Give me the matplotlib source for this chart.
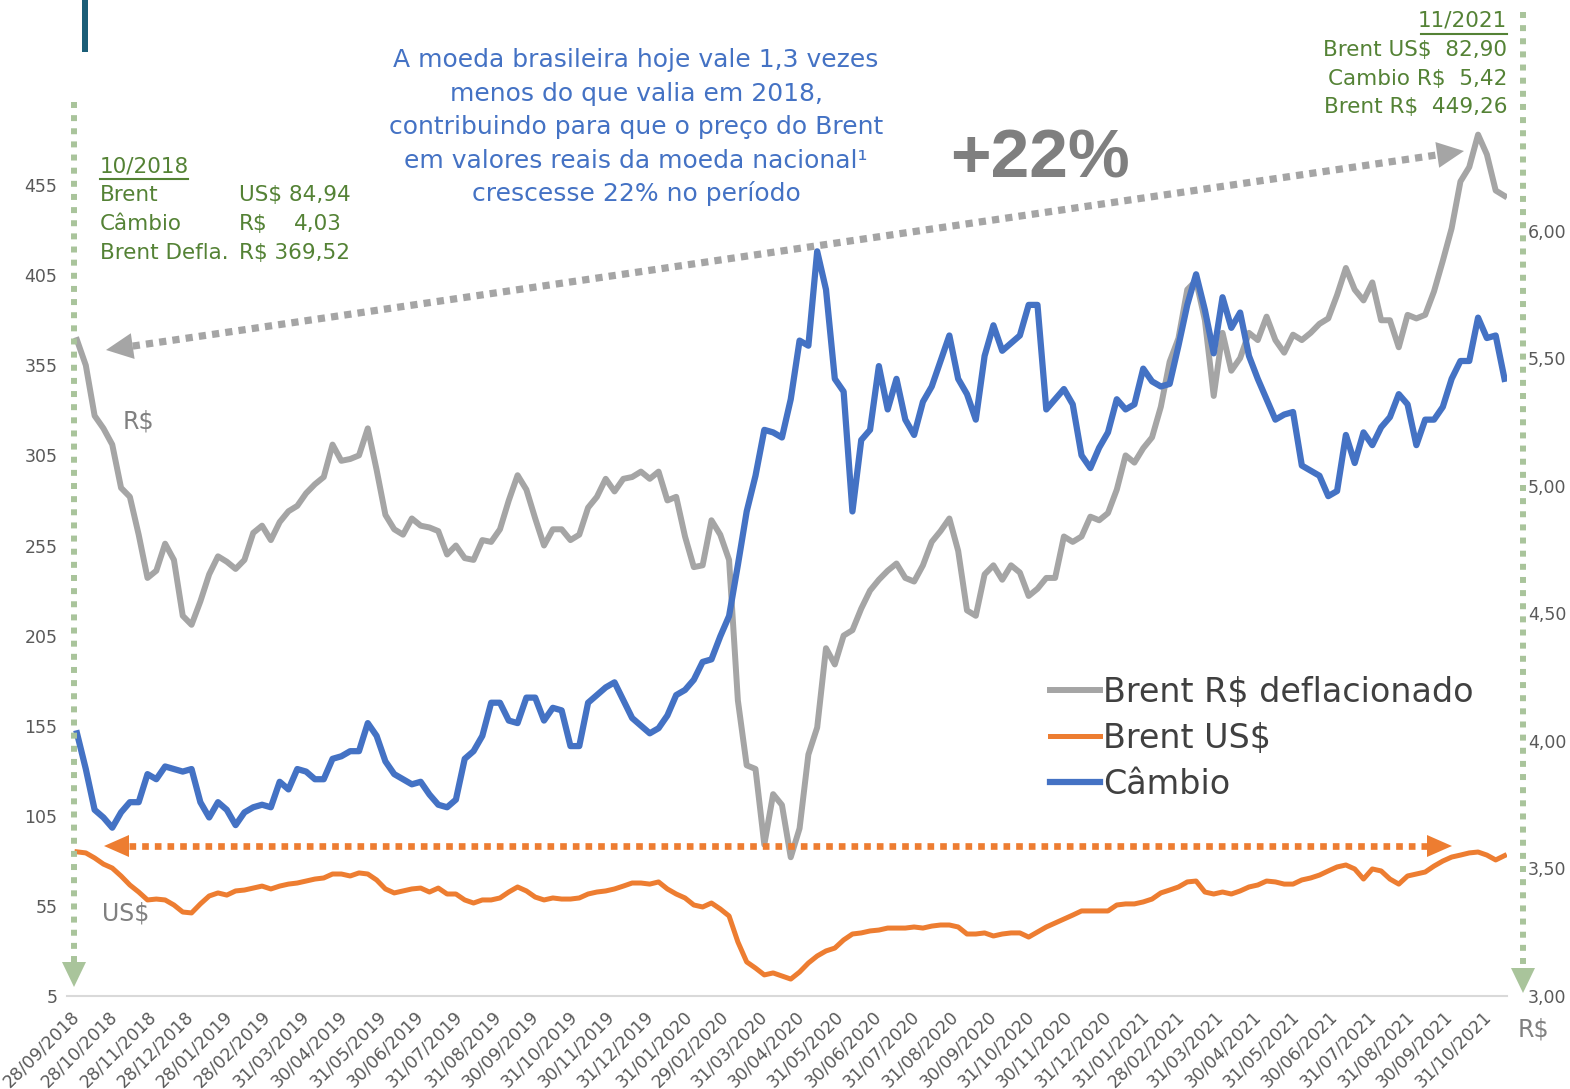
import numpy as np
import pandas as pd
import matplotlib
matplotlib.use("Agg")
import matplotlib.pyplot as plt
from matplotlib.patches import Polygon, Rectangle

# weekly readings, first point 28/09/2018, last point 13/11/2021
START = "2018-09-28"
END = "2021-11-13"

brent_brl = [369, 355, 327, 320, 311, 287, 282, 261, 237, 241,
             256, 247, 216, 211, 224, 239, 249, 246, 242, 247,
             262, 266, 258, 268, 274, 277, 284, 289, 293, 311,
             302, 303, 305, 320, 297, 272, 264, 261, 270, 266,
             265, 263, 250, 255, 248, 247, 258, 257, 264, 280,
             294, 286, 270, 255, 264, 264, 258, 261, 276, 282,
             292, 285, 292, 293, 296, 292, 296, 280, 282, 260,
             243, 244, 269, 261, 247, 169, 133, 131, 89, 117,
             111, 82, 98, 139, 154, 198, 189, 205, 208, 220,
             230, 236, 241, 245, 237, 235, 244, 257, 263, 270,
             252, 219, 216, 239, 244, 236, 244, 240, 227, 231,
             237, 237, 260, 257, 260, 271, 269, 273, 286, 305,
             301, 309, 315, 332, 357, 370, 397, 402, 380, 338,
             373, 352, 359, 373, 369, 382, 369, 362, 372, 369,
             373, 378, 381, 394, 409, 397, 391, 401, 380, 380,
             365, 383, 381, 383, 396, 413, 431, 457, 465, 483,
             472, 452, 449]

brent_usd = [85.0, 84.4, 81.6, 78.2, 76.0, 71.6, 66.6, 62.7, 58.3, 58.8,
             58.3, 55.5, 51.6, 51.1, 56.1, 60.5, 62.2, 61.0, 63.3, 63.8,
             64.9, 66.0, 64.4, 66.0, 67.1, 67.7, 68.8, 69.9, 70.5, 72.7,
             72.7, 71.6, 73.3, 72.7, 69.4, 64.4, 62.2, 63.3, 64.4, 64.9,
             62.7, 64.9, 61.6, 61.6, 58.3, 56.6, 58.3, 58.3, 59.4, 62.7,
             65.5, 63.3, 59.9, 58.3, 59.4, 58.8, 58.8, 59.4, 61.6, 62.7,
             63.3, 64.4, 66.0, 67.7, 67.7, 67.1, 68.3, 64.4, 61.6, 59.4,
             55.5, 54.4, 56.6, 53.3, 49.4, 35.0, 23.9, 20.5, 16.7, 17.8,
             16.1, 14.4, 18.3, 23.3, 27.2, 30.0, 31.6, 36.1, 39.4, 40.0,
             41.1, 41.6, 42.7, 42.7, 42.7, 43.3, 42.7, 43.8, 44.4, 44.4,
             43.3, 39.4, 39.4, 40.0, 38.3, 39.4, 40.0, 40.0, 37.7, 40.5,
             43.3, 45.5, 47.7, 49.9, 52.2, 52.2, 52.2, 52.2, 55.5, 56.1,
             56.1, 57.2, 58.8, 62.2, 63.8, 65.5, 68.3, 68.8, 62.7, 61.6,
             62.7, 61.6, 63.3, 65.5, 66.6, 68.8, 68.3, 67.1, 67.1, 69.4,
             70.5, 72.1, 74.4, 76.6, 77.7, 75.5, 69.9, 75.5, 74.4, 69.9,
             67.1, 71.6, 72.7, 73.8, 77.1, 79.9, 82.1, 83.2, 84.4, 84.9,
             83.2, 80.5, 82.9]

cambio = [4.03, 3.89, 3.73, 3.70, 3.66, 3.72, 3.76, 3.76, 3.87, 3.85,
          3.90, 3.89, 3.88, 3.89, 3.76, 3.70, 3.76, 3.73, 3.67, 3.72,
          3.74, 3.75, 3.74, 3.84, 3.81, 3.89, 3.88, 3.85, 3.85, 3.93,
          3.94, 3.96, 3.96, 4.07, 4.02, 3.92, 3.87, 3.85, 3.83, 3.84,
          3.79, 3.75, 3.74, 3.77, 3.93, 3.96, 4.02, 4.15, 4.15, 4.08,
          4.07, 4.17, 4.17, 4.08, 4.13, 4.12, 3.98, 3.98, 4.15, 4.18,
          4.21, 4.23, 4.16, 4.09, 4.06, 4.03, 4.05, 4.10, 4.18, 4.20,
          4.24, 4.31, 4.32, 4.41, 4.49, 4.69, 4.90, 5.04, 5.22, 5.21,
          5.19, 5.34, 5.57, 5.55, 5.92, 5.77, 5.42, 5.37, 4.90, 5.18,
          5.22, 5.47, 5.30, 5.42, 5.26, 5.20, 5.33, 5.39, 5.49, 5.59,
          5.42, 5.36, 5.26, 5.51, 5.63, 5.53, 5.56, 5.59, 5.71, 5.71,
          5.30, 5.34, 5.38, 5.32, 5.12, 5.07, 5.15, 5.21, 5.34, 5.30,
          5.32, 5.46, 5.41, 5.39, 5.40, 5.55, 5.71, 5.83, 5.69, 5.52,
          5.74, 5.62, 5.68, 5.51, 5.42, 5.34, 5.26, 5.28, 5.29, 5.08,
          5.06, 5.04, 4.96, 4.98, 5.20, 5.09, 5.21, 5.16, 5.23, 5.27,
          5.36, 5.32, 5.16, 5.26, 5.26, 5.31, 5.42, 5.49, 5.49, 5.66,
          5.58, 5.59, 5.42]

tick_labels = ["28/09/2018", "28/10/2018", "28/11/2018", "28/12/2018",
               "28/01/2019", "28/02/2019", "31/03/2019", "30/04/2019",
               "31/05/2019", "30/06/2019", "31/07/2019", "31/08/2019",
               "30/09/2019", "31/10/2019", "30/11/2019", "31/12/2019",
               "31/01/2020", "29/02/2020", "31/03/2020", "30/04/2020",
               "31/05/2020", "30/06/2020", "31/07/2020", "31/08/2020",
               "30/09/2020", "31/10/2020", "30/11/2020", "31/12/2020",
               "31/01/2021", "28/02/2021", "31/03/2021", "30/04/2021",
               "31/05/2021", "30/06/2021", "31/07/2021", "31/08/2021",
               "30/09/2021", "31/10/2021"]

left_ticks = [5, 55, 105, 155, 205, 255, 305, 355, 405, 455]
right_ticks = [3.0, 3.5, 4.0, 4.5, 5.0, 5.5, 6.0]

note_lines = ["A moeda brasileira hoje vale 1,3 vezes",
              "menos do que valia em 2018,",
              "contribuindo para que o preço do Brent",
              "em valores reais da moeda nacional¹",
              "crescesse 22% no período"]

GRAY = "#a5a5a5"
ORANGE = "#ed7d31"
BLUE = "#4472c4"
GREEN = "#548235"
GREEN_LT = "#a9c49b"
TICK = "#595959"

W, H = 1570, 1089


def head(ax, tip, toward, length, half, color):
    # filled triangle arrow head, tip pointing away from 'toward'
    tip = np.array(tip, float)
    d = np.array(toward, float) - tip
    d /= np.hypot(*d)
    n = np.array([-d[1], d[0]])
    base = tip + d * length
    ax.add_patch(Polygon([tip, base + n * half, base - n * half],
                         closed=True, color=color, lw=0))
    return base


def dotted_arrow(ax, p1, p2, color, lw, pattern, length, half, both=True):
    b2 = head(ax, p2, p1, length, half, color)
    b1 = head(ax, p1, p2, length, half, color) if both else np.array(p1, float)
    ax.plot([b1[0], b2[0]], [b1[1], b2[1]], color=color, lw=lw,
            ls=(0, pattern), dash_capstyle="butt")


def main():
    dates = pd.date_range(START, END, periods=len(brent_brl))
    tick_dates = pd.to_datetime(tick_labels, format="%d/%m/%Y")

    fig = plt.figure(figsize=(W / 100, H / 100), dpi=100)
    ax = fig.add_axes([67 / W, 93 / H, 1440 / W, 901 / H])
    ax2 = ax.twinx()

    l1, = ax.plot(dates, brent_brl, color=GRAY, lw=4.3,
                  solid_joinstyle="round", label="Brent R$ deflacionado")
    l2, = ax.plot(dates, brent_usd, color=ORANGE, lw=3.6,
                  solid_joinstyle="round", label="Brent US$")
    l3, = ax2.plot(dates, cambio, color=BLUE, lw=4.5,
                   solid_joinstyle="round", label="Câmbio")

    ax.set_xlim(pd.Timestamp("2018-09-20"), pd.Timestamp("2021-11-15"))
    ax.set_ylim(5, 505)
    ax2.set_ylim(3, 6.533)

    ax.set_yticks(left_ticks)
    ax.set_yticklabels([str(t) for t in left_ticks])
    ax2.set_yticks(right_ticks)
    ax2.set_yticklabels([f"{t:.2f}".replace(".", ",") for t in right_ticks])
    ax.set_xticks(tick_dates)
    ax.set_xticklabels(tick_labels, rotation=45, ha="right", va="center",
                       rotation_mode="anchor")

    ax.tick_params(axis="x", length=0, pad=13, labelsize=12.5, colors=TICK)
    ax.tick_params(axis="y", length=0, pad=7, labelsize=12.5, colors=TICK)
    ax2.tick_params(axis="y", length=0, pad=15, labelsize=12.5, colors=TICK)

    for s in ["top", "left", "right"]:
        ax.spines[s].set_visible(False)
    ax.spines["bottom"].set_color("#d9d9d9")
    ax.spines["bottom"].set_linewidth(1.5)
    for s in ax2.spines.values():
        s.set_visible(False)

    fig.legend([l1, l2, l3], [l1.get_label(), l2.get_label(), l3.get_label()],
               loc="upper left", bbox_to_anchor=(1050 / W, 1 - 676 / H),
               frameon=False, fontsize=24, labelcolor="#404040",
               handlelength=1.5, handletextpad=0.1, labelspacing=0.39,
               borderpad=0, borderaxespad=0)

    # overlay in pixel units for the annotations
    ov = fig.add_axes([0, 0, 1, 1], zorder=10)
    ov.set_xlim(0, W)
    ov.set_ylim(H, 0)
    ov.axis("off")
    ov.patch.set_alpha(0)

    ov.add_patch(Rectangle((82, 0), 6, 52, color="#1b5e78", lw=0))

    # green vertical markers
    dotted_arrow(ov, (74, 102), (74, 987), GREEN_LT, 4.3, (1, 1.2), 25, 12, both=False)
    dotted_arrow(ov, (1523, 12), (1523, 993), GREEN_LT, 4.3, (1, 1.2), 25, 12, both=False)

    # period arrows
    dotted_arrow(ov, (106, 350), (1464, 151), GRAY, 5.2, (1, 0.85), 27, 13)
    dotted_arrow(ov, (104, 846), (1452, 846), ORANGE, 4.8, (1, 0.9), 25, 11)

    ov.text(1040, 160, "+22%", ha="center", va="center", fontsize=50,
            fontweight="bold", family="Liberation Sans", color="#7f7f7f")

    for i, line in enumerate(note_lines):
        ov.text(636, 60 + i * 33.5, line, ha="center", va="center",
                fontsize=18, color=BLUE)

    # start of period
    ov.text(100, 166, "10/2018", ha="left", va="center", fontsize=15.5, color=GREEN)
    ov.plot([100, 188], [179, 179], color=GREEN, lw=1.5)
    rows = [("Brent", "US$ 84,94"), ("Câmbio", "R$"), ("Brent Defla.", "R$ 369,52")]
    for i, (a, b) in enumerate(rows):
        y = 195 + i * 29
        ov.text(100, y, a, ha="left", va="center", fontsize=15.5, color=GREEN)
        ov.text(239, y, b, ha="left", va="center", fontsize=15.5, color=GREEN)
    ov.text(342, 224, "4,03", ha="right", va="center", fontsize=15.5, color=GREEN)

    # end of period
    ov.text(1507, 21, "11/2021", ha="right", va="center", fontsize=15.5, color=GREEN)
    ov.plot([1421, 1507], [34, 34], color=GREEN, lw=1.5)
    for i, s in enumerate(["Brent US$  82,90", "Cambio R$  5,42", "Brent R$  449,26"]):
        ov.text(1507, 50 + i * 28.5, s, ha="right", va="center",
                fontsize=15.5, color=GREEN)

    ov.text(123, 421, "R$", ha="left", va="center", fontsize=17, color="#808080")
    ov.text(102, 914, "US$", ha="left", va="center", fontsize=17, color="#808080")
    ov.text(1518, 1029, "R$", ha="left", va="center", fontsize=17, color="#808080")

    fig.savefig("out.png", dpi=100, facecolor="white")


if __name__ == "__main__":
    main()
